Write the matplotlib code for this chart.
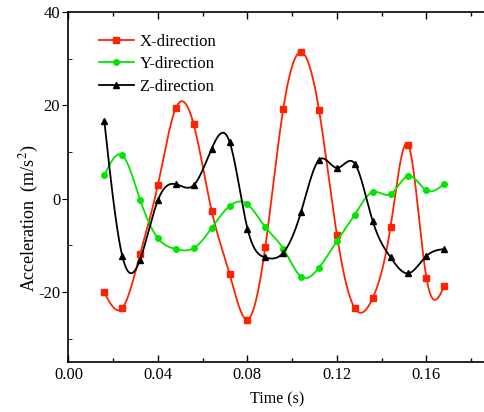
import numpy as np
import matplotlib
matplotlib.use('Agg')
import matplotlib.pyplot as plt
from matplotlib.ticker import MultipleLocator, FormatStrFormatter

plt.rcParams['font.family'] = ['Liberation Serif', 'DejaVu Serif']
plt.rcParams['mathtext.fontset'] = 'stix'
plt.rcParams['axes.unicode_minus'] = False

# --- data ---
t = [0.016, 0.024, 0.032, 0.040, 0.048, 0.056, 0.064, 0.072, 0.080, 0.088,
     0.096, 0.104, 0.112, 0.120, 0.128, 0.136, 0.144, 0.152, 0.160, 0.168]
acc_x = [-20.1, -23.5, -11.9, 3.0, 19.4, 15.9, -2.6, -16.1, -25.9, -10.3,
         19.2, 31.4, 19.0, -7.8, -23.5, -21.3, -6.0, 11.4, -16.9, -18.7]
acc_y = [5.0, 9.3, -0.2, -8.5, -10.8, -10.6, -6.3, -1.6, -1.2, -6.1,
         -10.7, -16.7, -14.8, -9.1, -3.4, 1.4, 1.0, 4.9, 1.8, 3.2]
acc_z = [16.7, -12.2, -13.1, -0.3, 3.1, 2.9, 10.7, 12.2, -6.4, -12.6,
         -11.6, -2.8, 8.3, 6.6, 7.5, -4.8, -12.6, -16.0, -12.3, -10.8]


def spline(x, y, n=600):
    # natural cubic spline through the points
    x = np.asarray(x, float)
    y = np.asarray(y, float)
    m = len(x)
    h = np.diff(x)
    A = np.zeros((m, m))
    r = np.zeros(m)
    A[0, 0] = A[-1, -1] = 1
    for i in range(1, m - 1):
        A[i, i - 1] = h[i - 1]
        A[i, i] = 2 * (h[i - 1] + h[i])
        A[i, i + 1] = h[i]
        r[i] = 3 * ((y[i + 1] - y[i]) / h[i] - (y[i] - y[i - 1]) / h[i - 1])
    c = np.linalg.solve(A, r)
    b = (y[1:] - y[:-1]) / h - h * (2 * c[:-1] + c[1:]) / 3
    d = (c[1:] - c[:-1]) / (3 * h)
    xs = np.linspace(x[0], x[-1], n)
    idx = np.clip(np.searchsorted(x, xs) - 1, 0, m - 2)
    dx = xs - x[idx]
    ys = y[idx] + b[idx] * dx + c[idx] * dx ** 2 + d[idx] * dx ** 3
    return xs, ys


fig = plt.figure(figsize=(4.85, 4.12), dpi=100)
ax = fig.add_axes([0.1412, 0.1214, 0.8588, 0.8495])

series = [
    ('X-direction', acc_x, '#ff2200', 's'),
    ('Y-direction', acc_y, '#00e600', 'o'),
    ('Z-direction', acc_z, 'black', '^'),
]
for label, vals, col, mk in series:
    xs, ys = spline(t, vals)
    ax.plot(xs, ys, color=col, lw=1.3)
    ax.plot(t, vals, ls='none', marker=mk, color=col, ms=4)
    ax.plot([], [], color=col, lw=1.3, marker=mk, ms=4, label=label)

ax.set_xlim(0, 0.1862)
ax.set_ylim(-35, 40)
ax.xaxis.set_major_locator(MultipleLocator(0.04))
ax.xaxis.set_minor_locator(MultipleLocator(0.02))
ax.xaxis.set_major_formatter(FormatStrFormatter('%.2f'))
ax.yaxis.set_major_locator(MultipleLocator(20))
ax.yaxis.set_minor_locator(MultipleLocator(10))
ax.tick_params(axis='x', which='both', direction='in', top=True, labelsize=12)
ax.tick_params(axis='y', which='major', direction='out', length=4, pad=2,
               labelsize=12)
ax.tick_params(axis='y', which='minor', direction='in', length=3)
ax.tick_params(axis='x', which='major', length=5, width=1)
ax.tick_params(axis='x', which='minor', length=3, width=1)
ax.spines['right'].set_visible(False)
for s in ('left', 'bottom', 'top'):
    ax.spines[s].set_linewidth(1.2)

ax.set_xlabel('Time (s)', fontsize=11.5, labelpad=6)
ax.set_ylabel('Acceleration  (m/s$^2$)', fontsize=13)
ax.yaxis.set_label_coords(-0.065, 0.41)

ax.legend(loc='upper left', bbox_to_anchor=(0.037, 0.98), frameon=False,
          fontsize=12, handlelength=2.1, handletextpad=0.35, labelspacing=0.38)

fig.savefig('out.png', dpi=100)
